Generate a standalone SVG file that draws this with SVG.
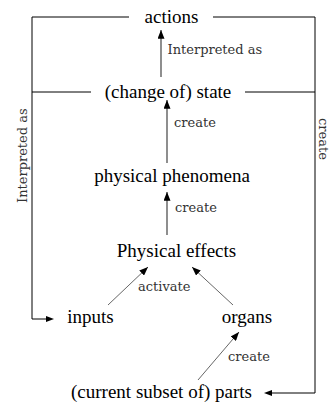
<svg xmlns="http://www.w3.org/2000/svg" width="331" height="403" viewBox="0 0 331 403">
<style>
.node{font-family:'Liberation Serif','Times New Roman',serif;font-size:19px;fill:#000;text-anchor:middle}
.lbl{font-family:'DejaVu Serif','Liberation Serif',serif;font-size:13px;fill:#333}
.frame{stroke:#000;stroke-width:1;fill:none}
.arr{stroke:#444;stroke-width:1.2;fill:none;marker-end:url(#ah)}
.diag{stroke:#555;stroke-width:0.9;fill:none;marker-end:url(#ah)}
</style>
<defs>
<marker id="ah" viewBox="0 0 10 8" refX="10" refY="4" markerWidth="9" markerHeight="7" markerUnits="userSpaceOnUse" orient="auto">
<path d="M0,0 L10,4 L0,8 Z" fill="#000"/>
</marker>
</defs>
<rect width="331" height="403" fill="#fff"/>
<g id="connectors">
<path class="frame" d="M129,17 H32 V319 H46"/>
<path class="frame" d="M213,17 H315 V393 H272"/>
<path d="M46,316 L54,319 L46,322 Z" fill="#000"/>
<path d="M272,390 L264,393 L272,396 Z" fill="#000"/>
<line class="frame" x1="32" y1="92" x2="91" y2="92"/>
<line class="frame" x1="245" y1="92" x2="315" y2="92"/>
<line class="arr" x1="161" y1="77" x2="161" y2="30"/>
<line class="arr" x1="167" y1="163" x2="167" y2="100"/>
<line class="arr" x1="167" y1="235" x2="167" y2="192"/>
<line class="diag" x1="108" y1="305" x2="148" y2="267"/>
<line class="diag" x1="233" y1="305" x2="192" y2="267"/>
<line class="diag" x1="198" y1="380" x2="239" y2="332"/>
<text class="lbl" font-family="DejaVu Serif, serif" x="167.5" y="54">Interpreted as</text>
<text class="lbl" font-family="DejaVu Serif, serif" x="174" y="126.5">create</text>
<text class="lbl" font-family="DejaVu Serif, serif" x="175" y="212">create</text>
<text class="lbl" font-family="DejaVu Serif, serif" x="138" y="291">activate</text>
<text class="lbl" font-family="DejaVu Serif, serif" x="228" y="361">create</text>
<text class="lbl" font-family="DejaVu Serif, serif" transform="translate(27,203) rotate(-90)">Interpreted as</text>
<text class="lbl" font-family="DejaVu Serif, serif" transform="translate(319,118) rotate(90)">create</text>
</g>
<g id="actions"><text class="node" font-family="Liberation Serif, serif" x="171.5" y="22.5">actions</text></g>
<g id="state"><text class="node" font-family="Liberation Serif, serif" x="168" y="97.5">(change of) state</text></g>
<g id="phenomena"><text class="node" font-family="Liberation Serif, serif" x="172" y="182">physical phenomena</text></g>
<g id="effects"><text class="node" font-family="Liberation Serif, serif" x="176.5" y="257">Physical effects</text></g>
<g id="inputs"><text class="node" font-family="Liberation Serif, serif" x="90.5" y="323">inputs</text></g>
<g id="organs"><text class="node" font-family="Liberation Serif, serif" x="247" y="323">organs</text></g>
<g id="parts"><text class="node" font-family="Liberation Serif, serif" x="161.5" y="398">(current subset of) parts</text></g>
</svg>
